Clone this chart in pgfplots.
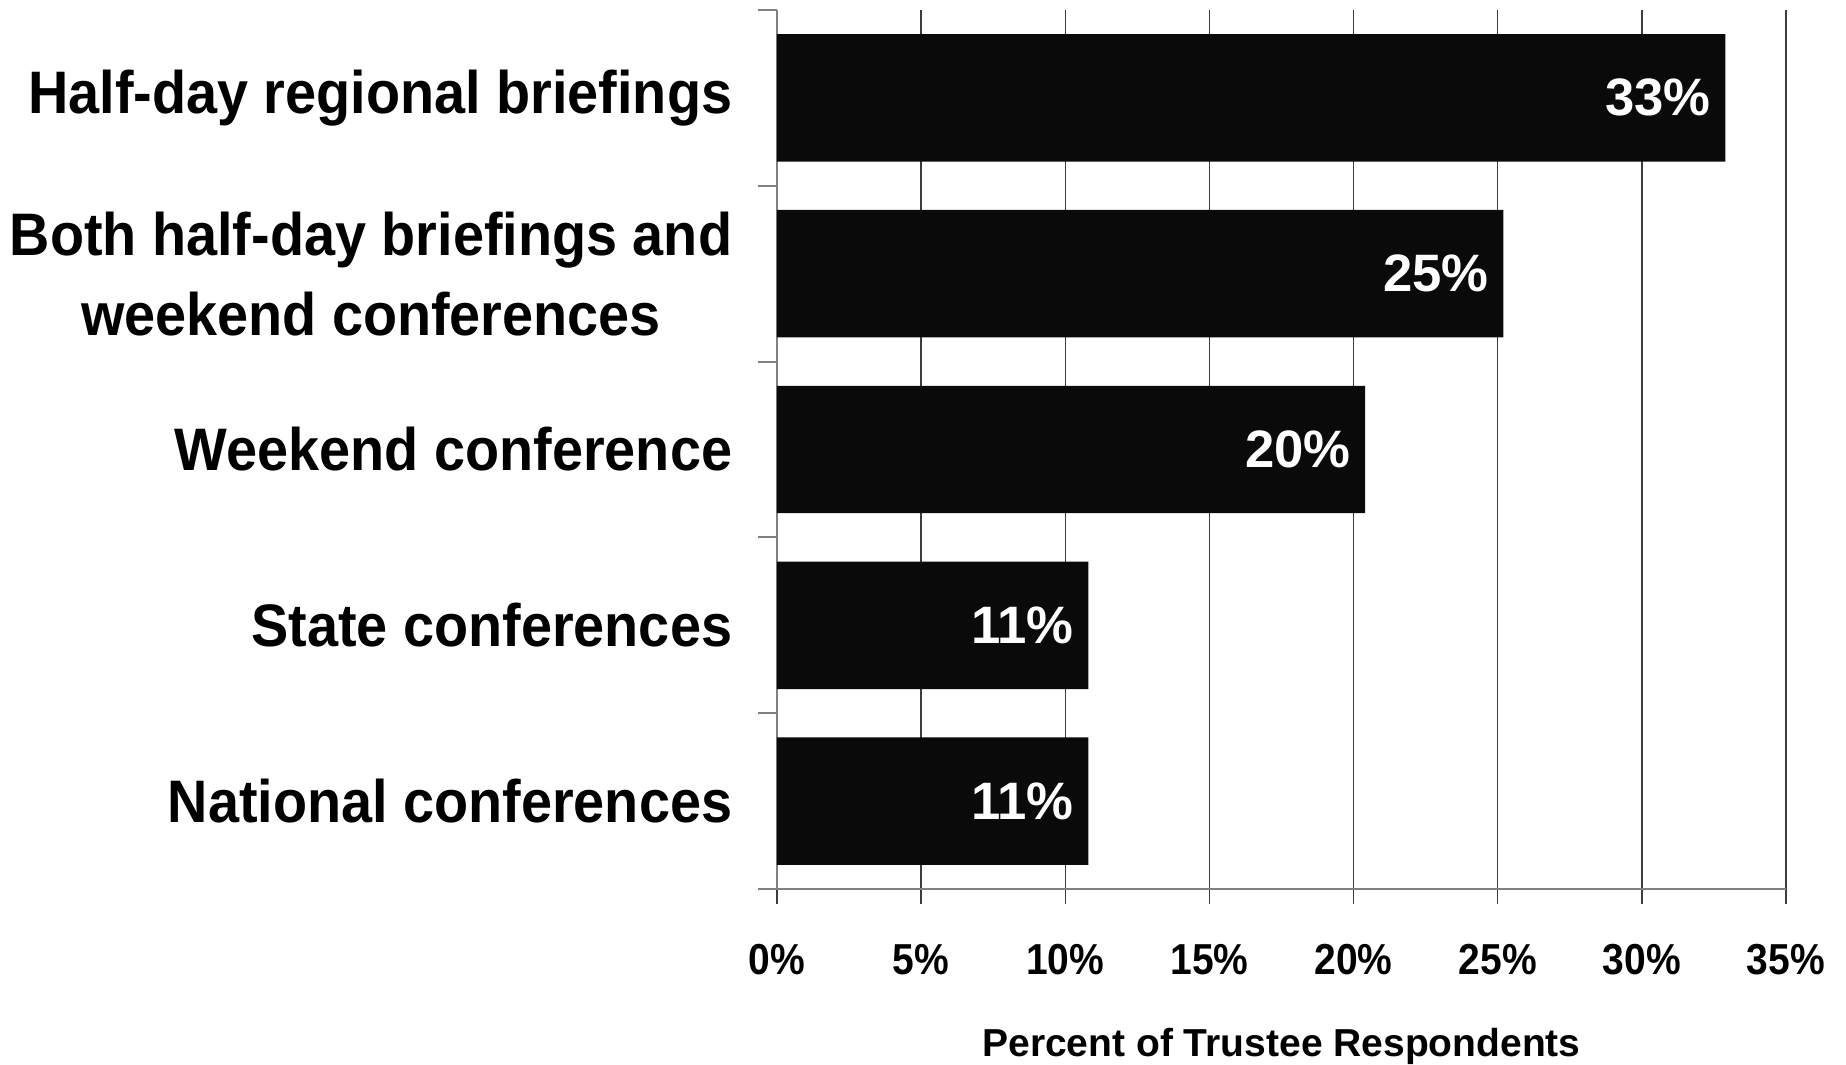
\documentclass[border=0pt]{standalone}
\usepackage{pgfplots}
\pgfplotsset{compat=1.18}
\usepackage{pgfplotstable}
\usepackage{fontspec}
\setmainfont{Liberation Sans}
\newfontfamily\catfont{Liberation Sans}[FakeStretch=0.93]
\newfontfamily\tickfont{Liberation Sans}[FakeStretch=0.9]
\definecolor{barblack}{HTML}{0A0A0A}
\definecolor{gridc}{HTML}{3C3C3C}
\definecolor{axisc}{HTML}{808080}

\pgfplotstableread{
y x lab
4 32.9 33
3 25.2 25
2 20.4 20
1 10.8 11
0 10.8 11
}\datatab

\begin{document}
\begin{tikzpicture}
\begin{axis}[
  scale only axis,
  width=302.7pt, height=263.7pt,
  xbar, bar width=0.725,
  xmin=0, xmax=35, ymin=-0.5, ymax=4.5,
  axis x line*=bottom, axis y line*=left,
  axis line style={axisc, line width=0.6pt},
  tick align=outside,
  major tick length=4.5pt,
  minor tick length=5.7pt,
  xtick={0,5,...,35},
  xticklabels={0\%,5\%,10\%,15\%,20\%,25\%,30\%,35\%},
  x tick style={gridc, line width=0.4pt},
  ytick={0,...,4},
  yticklabels={National conferences, State conferences, Weekend conference, {Both half-day briefings and\\weekend conferences}, Half-day regional briefings},
  minor ytick={-0.5,0.5,...,4.5},
  every major y tick/.append style={draw=none},
  every minor y tick/.append style={axisc, line width=0.6pt},
  xmajorgrids,
  major x grid style={gridc, line width=0.4pt},
  xticklabel style={font=\tickfont\bfseries\fontsize{13}{13}\selectfont, anchor=base, yshift=-21.2pt},
  yticklabel style={font=\catfont\bfseries\fontsize{18}{24}\selectfont, anchor=east, align=center, inner sep=0pt, xshift=-8.75pt},
  xlabel={Percent of Trustee Respondents},
  xlabel style={font=\bfseries\fontsize{11.7}{12}\selectfont, at={(axis description cs:0.5,0)}, anchor=base, inner sep=0pt, yshift=-50.2pt},
  point meta=explicit symbolic,
  nodes near coords={\pgfplotspointmeta\%},
  nodes near coords style={anchor=east, text=white, font=\bfseries\fontsize{15.8}{16}\selectfont, inner sep=0pt, xshift=-4.2pt},
]
\addplot[fill=barblack, draw=none] table[x=x, y=y, meta=lab] {\datatab};
\end{axis}
\path ([shift={(-233.1pt,-52.7pt)}]current axis.south west) rectangle ([shift={(18pt,3pt)}]current axis.north east);
\end{tikzpicture}
\end{document}
